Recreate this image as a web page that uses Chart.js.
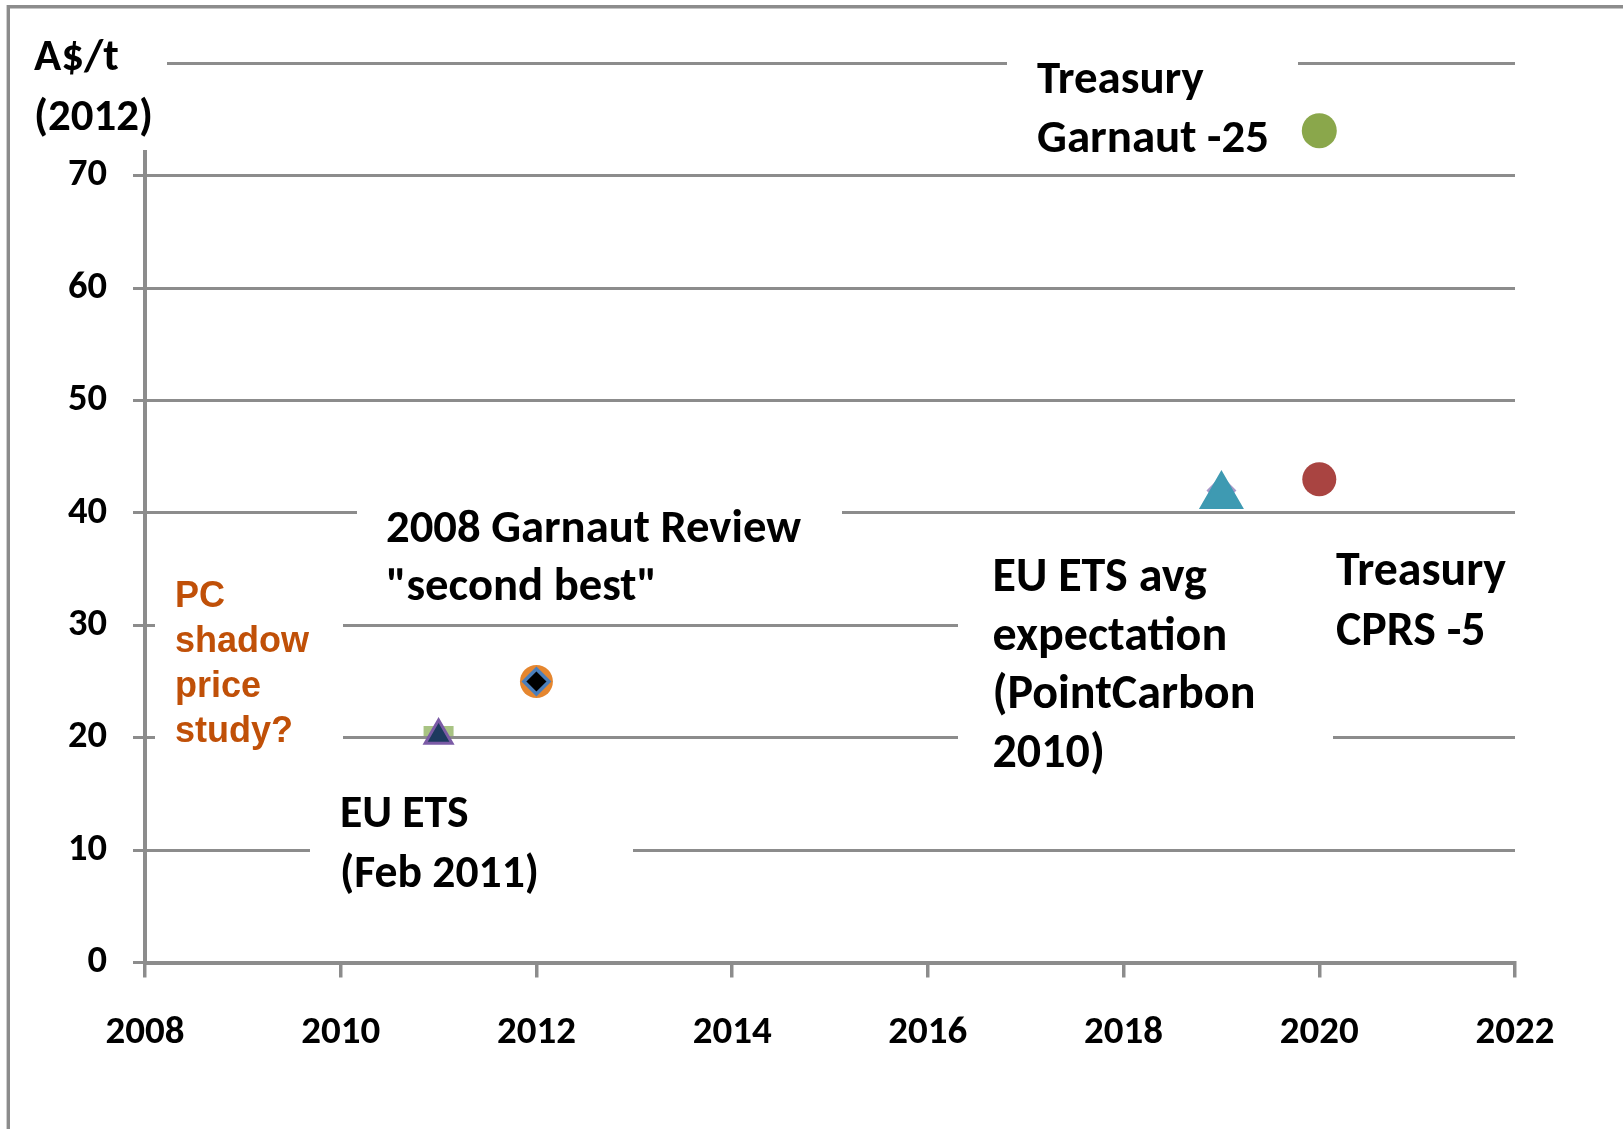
<!DOCTYPE html>
<html><head><meta charset="utf-8">
<script src="https://cdn.jsdelivr.net/npm/chart.js@4/dist/chart.umd.min.js"></script>
<style>html,body{margin:0;padding:0;background:#fff;overflow:hidden}
#wrap{position:absolute;left:0;top:0;width:1623px;height:1129px}</style>
</head><body><div id="wrap"><canvas id="c" width="1623" height="1129"></canvas></div>
<script>
// ---------- data ----------
const xTickValues = [2008, 2010, 2012, 2014, 2016, 2018, 2020, 2022];
const yTickValues = [0, 10, 20, 30, 40, 50, 60, 70, 80];
const seriesNames = [
  'EU ETS (Feb 2011) dash', 'EU ETS (Feb 2011)',
  '2008 Garnaut Review circle', '2008 Garnaut Review "second best"',
  'EU ETS avg expectation diamond', 'EU ETS avg expectation (PointCarbon 2010)',
  'Treasury CPRS -5', 'Treasury Garnaut -25'
];
const pointYears  = [2011, 2011, 2012, 2012, 2019, 2019, 2020, 2020];
const pointPrices = [20.6, 20.2, 25, 25, 42, 41.5, 43, 74];
const unitLines = ['A$/t', '(2012)'];
const noteGarnaut25 = ['Treasury', 'Garnaut -25'];
const noteReview = ['2008 Garnaut Review', '"second best"'];
const notePC = ['PC', 'shadow', 'price', 'study?'];
const noteEUavg = ['EU ETS avg', 'expectation', '(PointCarbon', '2010)'];
const noteCPRS = ['Treasury', 'CPRS -5'];
const noteEUfeb = ['EU ETS', '(Feb 2011)'];

// ---------- styles ----------
const FAMILY = 'Carlito, Lato, "Open Sans", sans-serif';
const GRID = '#8c8c8c';
const markerStyles = [
  {ps:'line',     r:15,   bg:'#a8c383', bc:'#a8c383', bw:10,  order:8},
  {ps:'triangle', r:15.5, bg:'#1d3a5f', bc:'#7b5ba6', bw:3,   order:7},
  {ps:'circle',   r:16.5, bg:'#e5862f', bc:'#e5862f', bw:0,   order:6},
  {ps:'rectRot',  r:12.5, bg:'#000000', bc:'#4a7ebb', bw:3.5, order:5},
  {ps:'rectRot',  r:15,   bg:'#a898c8', bc:'#a898c8', bw:0,   order:4},
  {ps:'triangle', r:24,   bg:'#3e9ab2', bc:'#3e9ab2', bw:2,   order:3},
  {ps:'circle',   r:17,   bg:'#a94441', bc:'#a94441', bw:0,   order:2},
  {ps:'circle',   r:17.5, bg:'#8aa74b', bc:'#8aa74b', bw:0,   order:1}
];

// label layout (pixels)
const notes = [
  {lines:unitLines,     x:34,    y:70,  lh:60,   fit:1, w:119, box:[18,20,167,150]},
  {lines:noteGarnaut25, x:1037,  y:93,  lh:59,   fit:1, w:232, box:[1007,28,1298,168]},
  {lines:noteReview,    x:386,   y:542, lh:58,   fit:0, w:415, box:[357,478,842,615]},
  {lines:notePC,        x:175,   y:607, lh:45,   font:'bold 36px "Liberation Sans", Arial, sans-serif', color:'#c05008', box:[155,562,343,765]},
  {lines:noteEUavg,     x:992.5, y:591, lh:58.7, fit:2, w:263, box:[958,530,1333,800]},
  {lines:noteCPRS,      x:1336,  y:585, lh:60,   fit:0, w:170, box:[1320,528,1523,700]},
  {lines:noteEUfeb,     x:340,   y:827, lh:60,   fit:1, w:199, box:[310,770,633,912]}
];

const mctx = document.createElement('canvas').getContext('2d');
function fitSize(text, width) {
  mctx.font = 'bold 100px ' + FAMILY;
  return 100 * width / mctx.measureText(text).width;
}
const xTickSize = fitSize('2008', 79);
const yTickSize = fitSize('70', 39);

const datasets = seriesNames.map((name, i) => ({
  label: name,
  data: [{x: pointYears[i], y: pointPrices[i]}],
  pointStyle: markerStyles[i].ps,
  pointRadius: markerStyles[i].r,
  pointHoverRadius: markerStyles[i].r,
  backgroundColor: markerStyles[i].bg,
  borderColor: markerStyles[i].bc,
  pointBorderWidth: markerStyles[i].bw,
  borderWidth: markerStyles[i].bw,
  order: markerStyles[i].order
}));

const notesPlugin = {
  id: 'notes',
  afterDraw(chart) {
    const ctx = chart.ctx;
    ctx.save();
    // frame (left and top edges)
    ctx.strokeStyle = GRID;
    ctx.lineWidth = 3.4;
    ctx.beginPath();
    ctx.moveTo(8.3, 1129); ctx.lineTo(8.3, 6.7); ctx.lineTo(1623, 6.7);
    ctx.stroke();
    for (const n of notes) {
      const [x0, y0, x1, y1] = n.box;
      ctx.fillStyle = '#ffffff';
      ctx.fillRect(x0, y0, x1 - x0, y1 - y0);
      let font = n.font;
      if (!font) {
        const s = fitSize(n.lines[n.fit], n.w);
        font = 'bold ' + s.toFixed(2) + 'px ' + FAMILY;
      }
      ctx.font = font;
      ctx.fillStyle = n.color || '#000000';
      ctx.textAlign = 'left';
      ctx.textBaseline = 'alphabetic';
      n.lines.forEach((t, k) => ctx.fillText(t, n.x, n.y + k * n.lh));
    }
    ctx.restore();
  }
};

new Chart(document.getElementById('c'), {
  type: 'scatter',
  data: {datasets},
  plugins: [notesPlugin],
  options: {
    responsive: false,
    animation: false,
    devicePixelRatio: 1,
    layout: {padding: {top: 63.3, right: 108, left: 0, bottom: 0}},
    plugins: {legend: {display: false}, tooltip: {enabled: false}},
    scales: {
      x: {
        type: 'linear', min: 2008, max: 2022,
        afterBuildTicks: s => { s.ticks = xTickValues.map(v => ({value: v})); },
        afterFit: s => { s.height = 1129 - 962.5; },
        ticks: {callback: v => String(v), autoSkip: false, maxRotation: 0, padding: 32,
                color: '#000', font: {family: FAMILY, size: xTickSize, weight: 'bold'}},
        grid: {drawOnChartArea: false, drawTicks: true, tickLength: 15, color: GRID, lineWidth: 3.5},
        border: {color: GRID, width: 4}
      },
      y: {
        type: 'linear', min: 0, max: 80,
        afterBuildTicks: s => { s.ticks = yTickValues.map(v => ({value: v})); },
        afterFit: s => { s.width = 145; },
        ticks: {callback: v => (v === 80 ? '' : String(v)), padding: 26,
                color: '#000', font: {family: FAMILY, size: yTickSize, weight: 'bold'}},
        grid: {color: GRID, lineWidth: 3, tickLength: 12, drawTicks: true},
        border: {color: GRID, width: 4}
      }
    }
  }
});
</script></body></html>
